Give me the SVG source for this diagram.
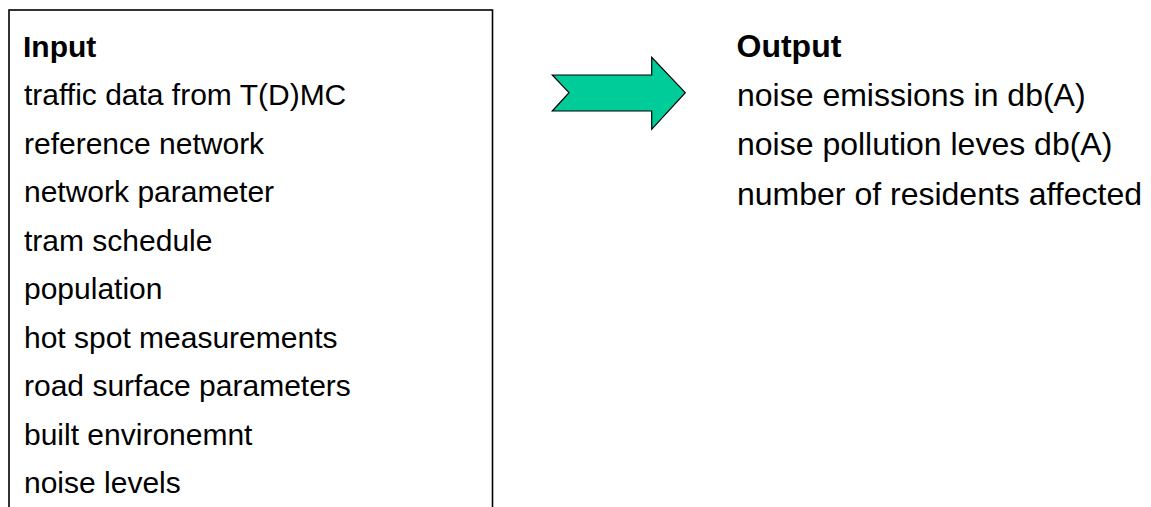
<svg xmlns="http://www.w3.org/2000/svg" width="1151" height="507" viewBox="0 0 1151 507">
<style>
text{font-family:"Liberation Sans",Arial,sans-serif;font-size:30px;fill:#000}
.h{font-weight:bold}
.o{font-size:32px}
</style>
<rect width="1151" height="507" fill="#fff"/>
<g id="input">
<rect x="9" y="10" width="483.5" height="520" fill="none" stroke="#000" stroke-width="1.6"/>
<text x="23" y="56.7" class="h">Input</text>
<text x="24" y="105.2">traffic data from T(D)MC</text>
<text x="24" y="153.7">reference network</text>
<text x="24" y="202.2">network parameter</text>
<text x="24" y="250.7">tram schedule</text>
<text x="24" y="299.2">population</text>
<text x="24" y="347.7">hot spot measurements</text>
<text x="24" y="396.2">road surface parameters</text>
<text x="24" y="444.7">built environemnt</text>
<text x="24" y="493.2">noise levels</text>
</g>
<g id="connectors">
<polygon points="552.3,75 651.7,75 651.7,57.3 685.3,92.7 651.7,129.3 651.7,111 552.3,111 569,92.7" fill="#00CC99" stroke="#000" stroke-width="1.2" stroke-linejoin="miter"/>
</g>
<g id="output">
<text x="736.5" y="56.5" class="h o">Output</text>
<text x="737" y="105.5" class="o">noise emissions in db(A)</text>
<text x="737" y="155" class="o">noise pollution leves db(A)</text>
<text x="737" y="204.5" class="o">number of residents affected</text>
</g>
</svg>
